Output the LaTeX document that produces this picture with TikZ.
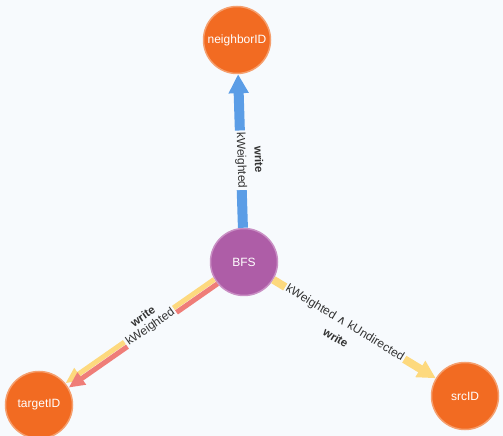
\documentclass[tikz,border=0pt]{standalone}
\usepackage{fontspec}
\setmainfont{Liberation Sans}
\newfontfamily\symfont{DejaVu Sans}
\usetikzlibrary{arrows.meta, calc, positioning}

\definecolor{bgcol}{HTML}{F7FAFD}
\definecolor{nodeorange}{HTML}{F26B22}
\definecolor{orangeline}{HTML}{F59F6E}
\definecolor{bfspurple}{HTML}{AE5DA7}
\definecolor{purpleline}{HTML}{C98FC4}
\definecolor{edgeblue}{HTML}{5B9DE6}
\definecolor{edgeyellow}{HTML}{FDD97E}
\definecolor{edgered}{HTML}{EF7D78}
\definecolor{labelgray}{HTML}{333333}

\begin{document}
\begin{tikzpicture}[x=1pt, y=1pt,
    vertex/.style={circle, minimum size=67pt, inner sep=0pt, line width=1.5pt, text=white, font=\fontsize{12}{14}\selectfont},
    edgelbl/.style={sloped, fill=bgcol, inner sep=1.5pt, text=labelgray, font=\fontsize{12}{14}\selectfont, pos=0.44},
    writelbl/.style={sloped, inner sep=0.5pt, text=labelgray, font=\bfseries\fontsize{11.5}{13}\selectfont, pos=0.44},
]
    \fill[bgcol] (0,0) rectangle (503,436);
    \useasboundingbox (0,0) rectangle (503,436);

    \node[vertex, fill=bfspurple, draw=purpleline] (BFS) at (244,174) {BFS};
    \node[vertex, fill=nodeorange, draw=orangeline] (neighborID) at (237,396) {neighborID};
    \node[vertex, fill=nodeorange, draw=orangeline] (srcID) at (465,40) {srcID};
    \node[vertex, fill=nodeorange, draw=orangeline] (targetID) at (39,31) {targetID};

    % BFS -> neighborID
    \draw[edgeblue, line width=10pt, -{Triangle[width=19pt,length=19pt]}] (BFS) -- (neighborID)
        node[edgelbl] (kwN) {kWeighted}
        node[writelbl, above=8.5pt] (wrN) {write};

    % BFS -> srcID
    \draw[edgeyellow, line width=8pt, -{Triangle[width=18pt,length=18pt]}] (BFS) -- (srcID)
        node[edgelbl] (kwS) {kWeighted {\symfont∧} kUndirected}
        node[writelbl, below=8.5pt] (wrS) {write};

    % BFS -> targetID, two edges side by side
    \draw[edgeyellow, line width=5pt, -{Triangle[width=14pt,length=16pt]},
        transform canvas={shift={(-1.6,2.2)}}] (BFS) -- (targetID);
    \draw[edgered, line width=5pt, -{Triangle[width=14pt,length=16pt]},
        transform canvas={shift={(1.6,-2.2)}}] (BFS) -- (targetID);
    \path (BFS) -- (targetID)
        node[edgelbl] (kwT) {kWeighted}
        node[writelbl, above=8.5pt] (wrT) {write};
\end{tikzpicture}
\end{document}
